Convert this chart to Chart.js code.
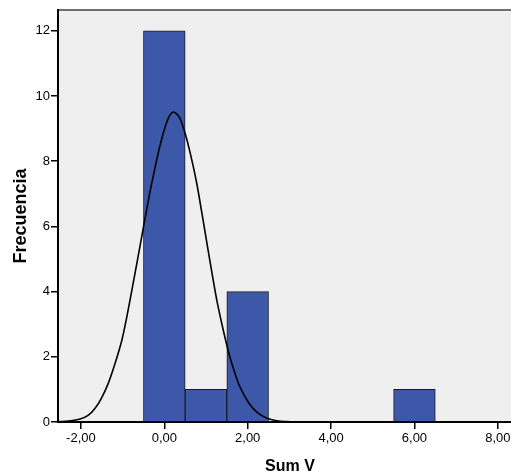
<!DOCTYPE html>
<html>
<head>
<meta charset="utf-8">
<script src="https://cdn.jsdelivr.net/npm/chart.js@4"></script>
<style>
html,body{margin:0;padding:0;background:#fff;overflow:hidden;}
#wrap{width:522px;height:476px;}
</style>
</head>
<body>
<div id="wrap"><canvas id="c" width="522" height="476"></canvas></div>
<script>
// Histogram bins (centres) and frequencies
const binCenters = [0, 1, 2, 6];
const frequencies = [12, 1, 4, 1];
// Normal curve points
const curveX = [-2.55, -2.30, -2.02, -1.82, -1.66, -1.50, -1.34, -1.18, -1.02, -0.90, -0.78, -0.64, -0.50, -0.36, -0.22, -0.10, 0.02, 0.12, 0.22, 0.36, 0.50, 0.64, 0.78, 0.90, 1.02, 1.14, 1.26, 1.40, 1.54, 1.68, 1.82, 2.02, 2.22, 2.45, 2.70, 3.00, 3.30, 4.00, 8.60];
const curveY = [0.01, 0.03, 0.09, 0.21, 0.42, 0.75, 1.20, 1.80, 2.50, 3.22, 4.03, 5.00, 5.98, 6.95, 7.82, 8.50, 9.05, 9.38, 9.51, 9.35, 8.85, 8.15, 7.31, 6.42, 5.50, 4.60, 3.73, 2.90, 2.15, 1.55, 1.06, 0.60, 0.30, 0.12, 0.04, 0.01, 0.00, 0.00, 0.00];
// Tick values
const xTicks = [-2, 0, 2, 4, 6, 8];
const yTicks = [0, 2, 4, 6, 8, 10, 12];

const barData = binCenters.map((x, i) => ({x: x, y: frequencies[i]}));
const curveData = curveX.map((x, i) => ({x: x, y: curveY[i]}));

const plotBg = {
  id: 'plotBg',
  beforeDraw(chart) {
    const {ctx, chartArea: a} = chart;
    ctx.save();
    ctx.fillStyle = '#efefef';
    ctx.fillRect(a.left, a.top, a.right - a.left, a.bottom - a.top);
    ctx.strokeStyle = '#6f6f6f';
    ctx.lineWidth = 2;
    ctx.beginPath();
    ctx.moveTo(a.left, a.top);
    ctx.lineTo(a.right, a.top);
    ctx.stroke();
    ctx.restore();
  }
};

new Chart(document.getElementById('c'), {
  type: 'bar',
  data: {
    datasets: [
      {
        type: 'line',
        data: curveData,
        borderColor: '#000',
        borderWidth: 1.6,
        pointRadius: 0,
        tension: 0.3,
        fill: false,
        order: 0
      },
      {
        type: 'bar',
        data: barData,
        backgroundColor: '#3e58a9',
        borderColor: '#1c1c1c',
        borderWidth: 1,
        barPercentage: 1,
        categoryPercentage: 1,
        order: 1
      }
    ]
  },
  options: {
    responsive: false,
    animation: false,
    layout: {padding: {top: 10, left: 0, right: 0, bottom: 0}},
    plugins: {legend: {display: false}, tooltip: {enabled: false}},
    scales: {
      x: {
        type: 'linear',
        min: -2.55,
        max: 8.58,
        offset: false,
        afterBuildTicks(s) { s.ticks = xTicks.map(v => ({value: v})); },
        afterFit(s) { s.height = 54; },
        grid: {offset: false, drawOnChartArea: false, drawTicks: true, tickLength: 7, color: '#000', lineWidth: 1.5},
        border: {display: true, color: '#000', width: 2},
        ticks: {
          color: '#000',
          padding: 2,
          maxRotation: 0,
          font: {family: 'Liberation Sans, Arial, sans-serif', size: 13},
          callback: v => v.toFixed(2).replace('.', ',')
        },
        title: {
          display: true,
          text: 'Sum V',
          color: '#000',
          padding: {top: 0, bottom: 0},
          font: {family: 'Liberation Sans, Arial, sans-serif', size: 16, weight: 'bold'}
        }
      },
      y: {
        type: 'linear',
        min: 0,
        max: 12.64,
        afterBuildTicks(s) { s.ticks = yTicks.map(v => ({value: v})); },
        afterFit(s) { s.width = 58; },
        grid: {drawOnChartArea: false, drawTicks: true, tickLength: 7, color: '#000', lineWidth: 1.5},
        border: {display: true, color: '#000', width: 2},
        ticks: {
          color: '#000',
          padding: 1,
          font: {family: 'Liberation Sans, Arial, sans-serif', size: 13},
          callback: v => String(v)
        },
        title: {
          display: true,
          text: 'Frecuencia',
          color: '#000',
          padding: {top: 10, bottom: 0},
          font: {family: 'Liberation Sans, Arial, sans-serif', size: 18, weight: 'bold'}
        }
      }
    }
  },
  plugins: [plotBg]
});
</script>
</body>
</html>
